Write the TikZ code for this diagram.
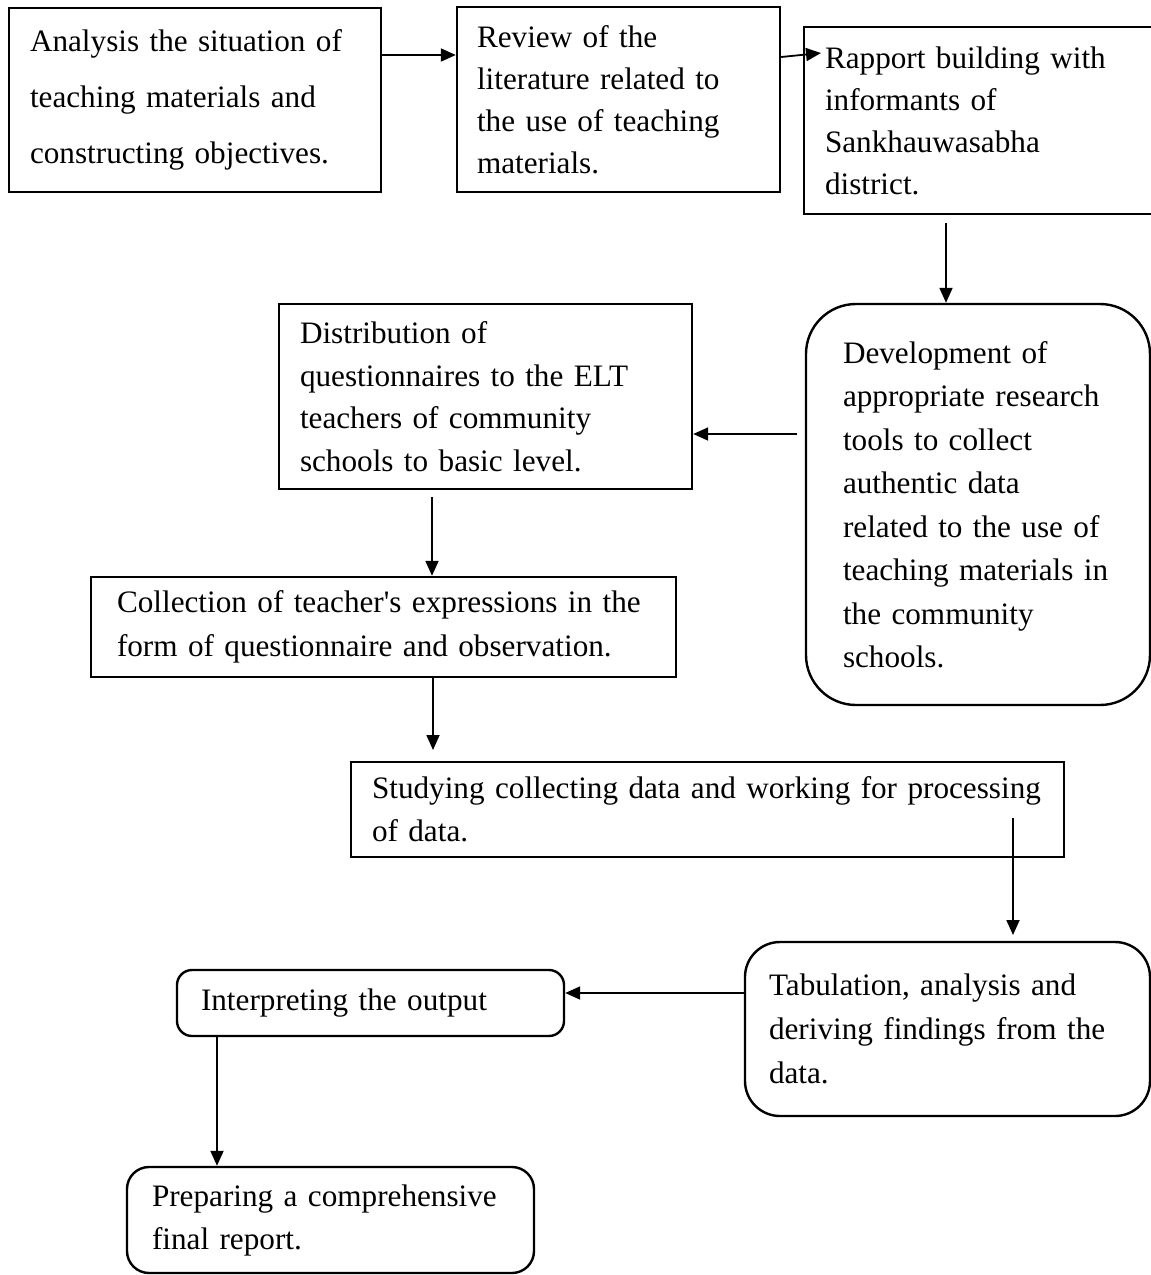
\documentclass[tikz,border=0pt]{standalone}
\usepackage{fontspec}
\setmainfont{Liberation Serif}
\newfontfamily\tnr{Liberation Serif}
\usetikzlibrary{arrows.meta}
\newcommand\oneline[1]{\mbox{#1}}
\tikzset{
  boxbase/.style={draw, line width=1.2pt, align=left, anchor=center, inner ysep=0pt},
  sq/.style={boxbase},
  rnd/.style={boxbase, rounded corners=#1},
  arr/.style={-{Triangle[length=7.5pt,width=6.5pt]}, line width=0.9pt},
}
\begin{document}
\begin{tikzpicture}[x=0.5pt,y=-0.5pt]
\useasboundingbox (0,0) rectangle (1151,1275);

\node[sq, minimum width=186pt, minimum height=92pt, inner xsep=10.5pt, text width=165pt,
      font=\tnr\fontsize{15.6pt}{28pt}\selectfont] (B1) at (195,100)
  {Analysis the situation of\\teaching materials and\\constructing objectives.};

\node[sq, minimum width=161.5pt, minimum height=92.5pt, inner xsep=10pt, text width=141.5pt,
      font=\tnr\fontsize{15.6pt}{21pt}\selectfont] (B2) at (618.5,99.5)
  {Review of the\\literature related to\\the use of teaching\\materials.};

\node[sq, minimum width=174pt, minimum height=93.5pt, inner xsep=10.5pt, text width=153pt,
      font=\tnr\fontsize{15.6pt}{21pt}\selectfont] (B3) at (978,120.5)
  {Rapport building with\\informants of\\Sankhauwasabha\\district.};

\node[rnd=25pt, minimum width=172pt, minimum height=200.5pt, inner xsep=18.5pt, text width=135pt,
      font=\tnr\fontsize{15.6pt}{21.75pt}\selectfont] (B4) at (978,504.5)
  {Development of\\\oneline{appropriate research}\\tools to collect\\authentic data\\\oneline{related to the use of}\\\oneline{teaching materials in}\\the community\\schools.};

\node[sq, minimum width=206.5pt, minimum height=92.5pt, inner xsep=10.5pt, text width=185.5pt,
      font=\tnr\fontsize{15.6pt}{21.25pt}\selectfont] (B5) at (485.5,396.5)
  {Distribution of\\questionnaires to the ELT\\teachers of community\\schools to basic level.};

\node[sq, minimum width=292.5pt, minimum height=50pt, inner xsep=13pt, text width=266.5pt,
      font=\tnr\fontsize{15.6pt}{22pt}\selectfont] (B6) at (383.5,627)
  {\oneline{Collection of teacher's expressions in the}\\form of questionnaire and observation.};

\node[sq, minimum width=356.5pt, minimum height=47.5pt, inner xsep=10.5pt, text width=335.5pt,
      font=\tnr\fontsize{15.6pt}{21.5pt}\selectfont] (B7) at (707.5,809.5)
  {\oneline{Studying collecting data and working for processing}\\of data.};

\node[rnd=17.5pt, minimum width=202.5pt, minimum height=87pt, inner xsep=12pt, text width=178.5pt,
      font=\tnr\fontsize{15.6pt}{22pt}\selectfont] (B8) at (947.5,1029)
  {Tabulation, analysis and\\\oneline{deriving findings from the}\\data.};

\node[rnd=7.5pt, minimum width=193.5pt, minimum height=33pt, inner xsep=12pt, text width=169.5pt,
      font=\tnr\fontsize{15.6pt}{22pt}\selectfont] (B9) at (370.5,1003)
  {Interpreting the output};

\node[rnd=11pt, minimum width=203.5pt, minimum height=53pt, inner xsep=12.5pt, text width=178.5pt,
      font=\tnr\fontsize{15.6pt}{21.5pt}\selectfont] (B10) at (330.5,1220)
  {Preparing a comprehensive\\final report.};

\coordinate (p1) at (0,55);
\draw[arr] (B1.east |- p1) -- (B2.west |- p1);
\coordinate (p2s) at (0,57);
\coordinate (p2e) at (821,53);
\draw[arr] (B2.east |- p2s) -- (p2e);
\coordinate (p3s) at (946,223);
\draw[arr] (p3s) -- (p3s |- B4.north);
\coordinate (p4s) at (797,434);
\draw[arr] (p4s) -- (B5.east |- p4s);
\coordinate (p5s) at (432,497);
\draw[arr] (p5s) -- (p5s |- B6.north);
\coordinate (p6e) at (433,750);
\draw[arr] (B6.south -| p6e) -- (p6e);
\coordinate (p7s) at (1013,818);
\coordinate (p7e) at (1013,935);
\draw[arr] (p7s) -- (p7e);
\coordinate (p8) at (0,993);
\draw[arr] (B8.west |- p8) -- (B9.east |- p8);
\coordinate (p9) at (217,0);
\draw[arr] (B9.south -| p9) -- (B10.north -| p9);
\end{tikzpicture}
\end{document}
